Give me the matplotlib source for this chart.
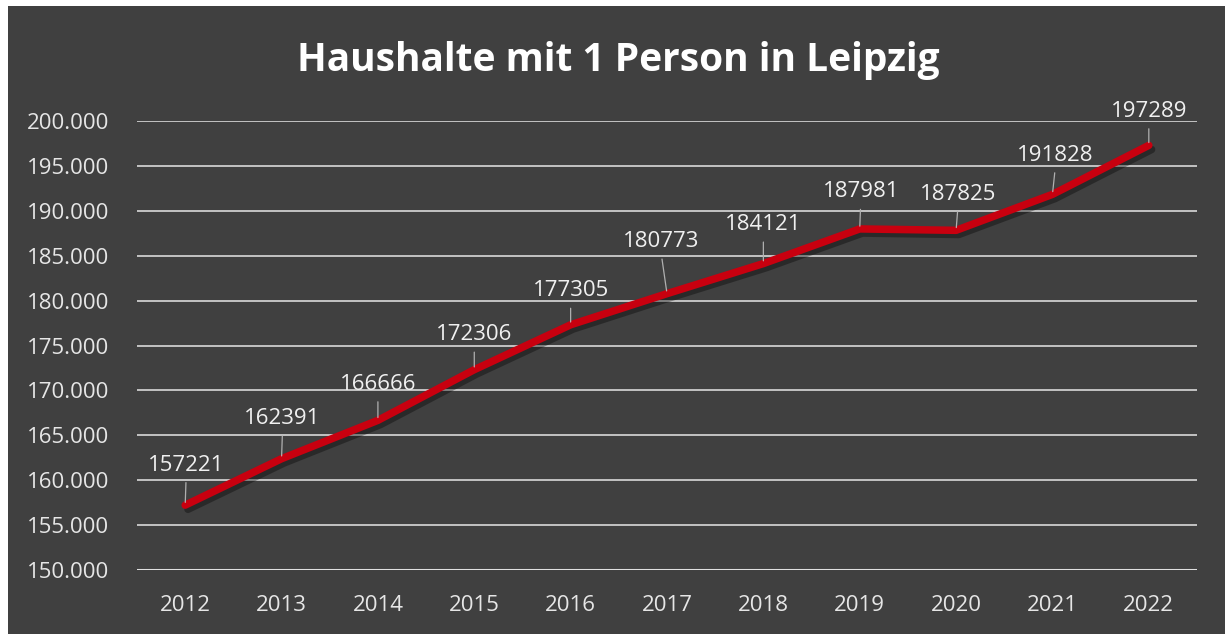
import matplotlib
matplotlib.use("Agg")
import matplotlib.pyplot as plt
import matplotlib.patheffects as pe
from matplotlib.patches import Rectangle

years = ["2012", "2013", "2014", "2015", "2016", "2017", "2018", "2019", "2020", "2021", "2022"]
households = [157221, 162391, 166666, 172306, 177305, 180773, 184121, 187981, 187825, 191828, 197289]
yticks = [150000, 155000, 160000, 165000, 170000, 175000, 180000, 185000, 190000, 195000, 200000]
ytick_labels = ["150.000", "155.000", "160.000", "165.000", "170.000", "175.000",
                "180.000", "185.000", "190.000", "195.000", "200.000"]
title = "Haushalte mit 1 Person in Leipzig"
# label offsets (pixels) relative to point
label_dx = [1, 1, 0, 0, 0, -6, 0, 1, 2, 3, 0]
label_dy = [40, 40, 36, 35, 34, 52, 39, 37, 36, 39, 34]

W, H = 1225, 634
BG = "#404040"
fig = plt.figure(figsize=(W / 100, H / 100), dpi=100, facecolor="white")
bgrect = Rectangle((8 / W, 0), 1, 1 - 6 / H, transform=fig.transFigure,
                   facecolor=BG, edgecolor="none", zorder=-5)
fig.add_artist(bgrect)

ax = fig.add_axes([137 / W, 1 - 570 / H, (1197 - 137) / W, (570 - 121) / H])
ax.set_zorder(1)
ax.set_facecolor(BG)
x = list(range(len(years)))
ax.set_xlim(-0.5, len(years) - 0.5)
ax.set_ylim(150000, 200000)

for v in yticks[1:]:
    ax.axhline(v, color="#cdcdcd", lw=1.3, zorder=1)
ax.axhline(150000, color="#e0e0e0", lw=2.2, zorder=1)

ax.plot(x, households, color="#C8000F", lw=5.4, solid_joinstyle="round",
        solid_capstyle="round", zorder=3,
        path_effects=[pe.SimpleLineShadow(offset=(2, -3), shadow_color="black", alpha=0.35),
                      pe.Normal()])

for i, v in enumerate(households):
    ax.annotate(str(v), xy=(i, v), xytext=(label_dx[i], label_dy[i]),
                textcoords="offset pixels", ha="center", va="center",
                fontsize=16, color="#f0f0f0", family="Open Sans", zorder=4,
                annotation_clip=False,
                arrowprops=dict(arrowstyle="-", color="#b0b0b0", lw=0.9,
                                relpos=(0.5, 0.0), shrinkA=3, shrinkB=2))

ax.set_xticks(x)
ax.set_xticklabels(years, fontsize=16, color="#e6e6e6", family="Open Sans")
ax.set_yticks(yticks)
ax.set_yticklabels(ytick_labels, fontsize=16, color="#e6e6e6", family="Open Sans")
ax.tick_params(axis="both", length=0)
ax.tick_params(axis="y", pad=20)
ax.tick_params(axis="x", pad=18)
for s in ax.spines.values():
    s.set_visible(False)

fig.text(618 / W, 1 - 60 / H, title, ha="center", va="center", fontsize=28,
         fontweight="bold", color="white", family="Open Sans")

fig.savefig("out.png", dpi=100, facecolor="white")
